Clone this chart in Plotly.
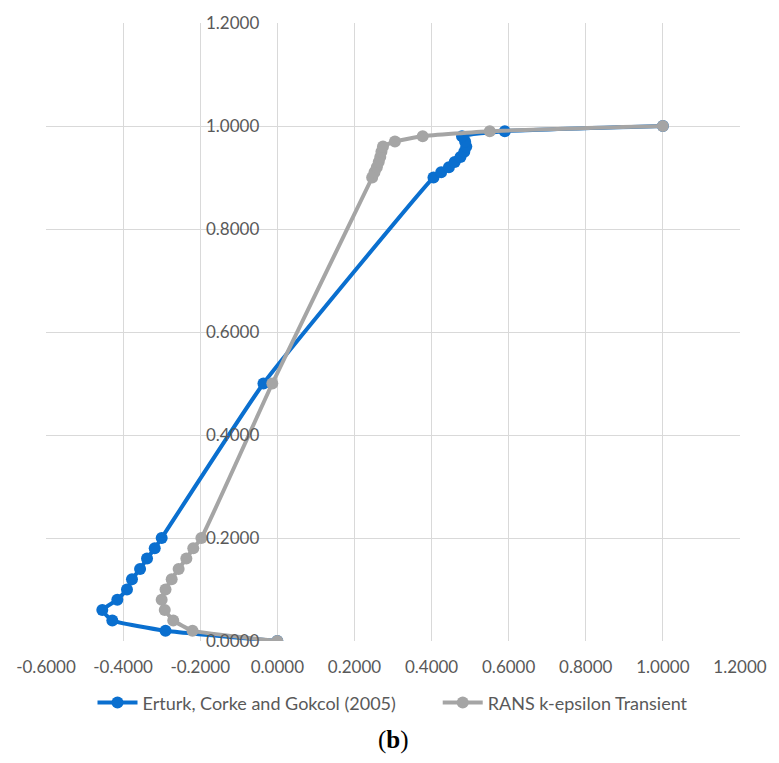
import plotly.graph_objects as go

# Erturk, Corke and Gokcol (2005)
erturk_x = [0.0, -0.29, -0.428, -0.454, -0.415, -0.39, -0.377, -0.356, -0.338, -0.318, -0.30,
            -0.036, 0.405, 0.425, 0.445, 0.46, 0.475, 0.485, 0.49, 0.487, 0.479, 0.59, 1.0]
erturk_y = [0.0, 0.02, 0.04, 0.06, 0.08, 0.10, 0.12, 0.14, 0.16, 0.18, 0.20,
            0.50, 0.90, 0.91, 0.92, 0.93, 0.94, 0.95, 0.96, 0.97, 0.98, 0.99, 1.0]

# RANS k-epsilon Transient
rans_x = [0.0, -0.22, -0.27, -0.292, -0.30, -0.29, -0.274, -0.256, -0.236, -0.218, -0.197,
          -0.013, 0.246, 0.252, 0.258, 0.263, 0.267, 0.27, 0.274, 0.305, 0.377, 0.551, 1.0]
rans_y = [0.0, 0.02, 0.04, 0.06, 0.08, 0.10, 0.12, 0.14, 0.16, 0.18, 0.20,
          0.50, 0.90, 0.91, 0.92, 0.93, 0.94, 0.95, 0.96, 0.97, 0.98, 0.99, 1.0]

tick_vals_x = [-0.6, -0.4, -0.2, 0.0, 0.2, 0.4, 0.6, 0.8, 1.0, 1.2]
tick_text_x = ["-0.6000", "-0.4000", "-0.2000", "0.0000", "0.2000", "0.4000",
               "0.6000", "0.8000", "1.0000", "1.2000"]
tick_vals_y = [0.0, 0.2, 0.4, 0.6, 0.8, 1.0, 1.2]
tick_text_y = ["0.0000", "0.2000", "0.4000", "0.6000", "0.8000", "1.0000", "1.2000"]

BLUE = "#0a6fcf"
GRAY = "#a5a5a5"
FONT = "Lato"
GAP = "\u00a0" * 8

fig = go.Figure()
fig.add_trace(go.Scatter(x=erturk_x, y=erturk_y, mode="lines+markers",
                         name="Erturk, Corke and Gokcol (2005)" + GAP,
                         line=dict(color=BLUE, width=4, shape="spline", smoothing=0.4),
                         marker=dict(color=BLUE, size=12)))
fig.add_trace(go.Scatter(x=rans_x, y=rans_y, mode="lines+markers",
                         name="RANS k-epsilon Transient",
                         line=dict(color=GRAY, width=4, shape="spline", smoothing=0.4),
                         marker=dict(color=GRAY, size=12)))

fig.update_layout(
    width=779, height=763,
    margin=dict(l=46, r=31, t=19, b=122),
    plot_bgcolor="white", paper_bgcolor="white",
    font=dict(family=FONT, size=17, color="#595959"),
    showlegend=True,
    legend=dict(orientation="h", x=0.5, xanchor="center", y=-0.1, yanchor="middle",
                font=dict(size=18, color="#595959"), itemwidth=40),
    xaxis=dict(range=[-0.6, 1.2], tickvals=tick_vals_x, ticktext=tick_text_x,
               showgrid=True, gridcolor="#d9d9d9", gridwidth=1,
               zeroline=False, showline=False, ticks="",
               ticklabelstandoff=14,
               tickfont=dict(size=17, color="#595959")),
    yaxis=dict(range=[0, 1.2], tickvals=tick_vals_y, ticktext=tick_text_y,
               showgrid=True, gridcolor="#d9d9d9", gridwidth=1,
               zeroline=False, showline=False, ticks="",
               anchor="free", position=1/3, ticklabelstandoff=18,
               tickfont=dict(size=17, color="#595959")),
    annotations=[dict(text="(<b>b</b>)", xref="paper", yref="paper", x=0.5, y=-0.16,
                      xanchor="center", yanchor="middle", showarrow=False,
                      font=dict(family="Liberation Serif", size=25, color="#000000"))],
)

fig.write_html("out.html")
